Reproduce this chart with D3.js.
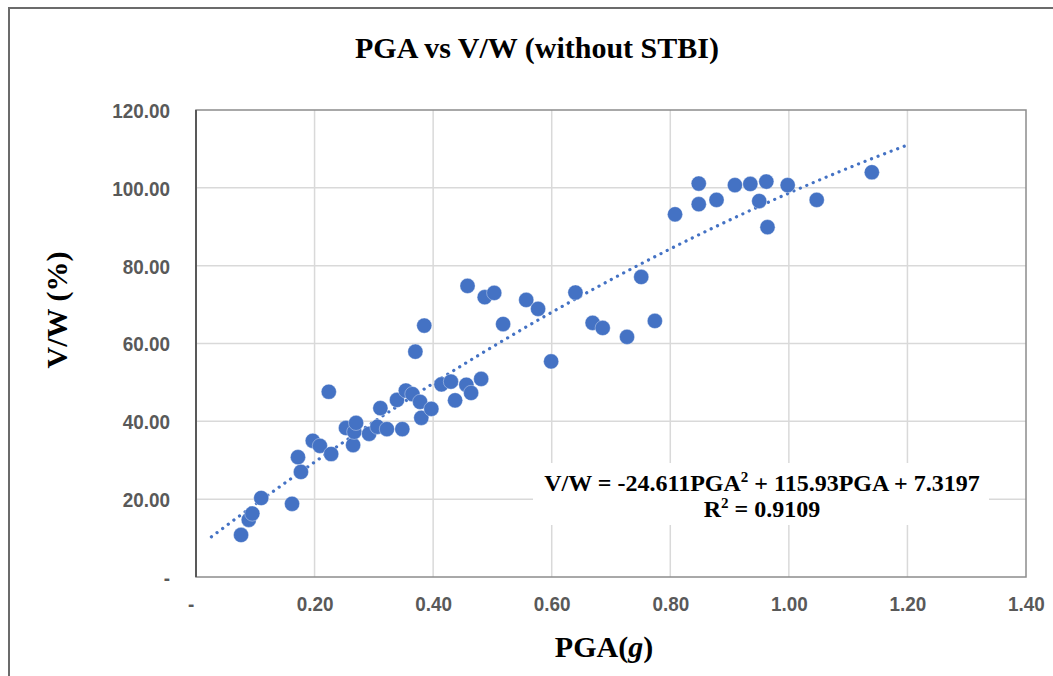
<!DOCTYPE html>
<html>
<head>
<meta charset="utf-8">
<script src="https://cdn.jsdelivr.net/npm/d3@7"></script>
<style>
  html, body { margin: 0; padding: 0; background: #fff; }
  svg { display: block; }
</style>
</head>
<body>
<svg id="chart" width="1053" height="676"></svg>
<script>
// ---- Data ----
const pga = [0.076, 0.089, 0.095, 0.110, 0.162, 0.172, 0.177, 0.197, 0.209, 0.224,
             0.228, 0.253, 0.265, 0.267, 0.270, 0.292, 0.306, 0.311, 0.322, 0.339,
             0.348, 0.354, 0.365, 0.370, 0.378, 0.380, 0.385, 0.397, 0.414, 0.430,
             0.437, 0.456, 0.458, 0.464, 0.481, 0.487, 0.503, 0.518, 0.557, 0.577,
             0.599, 0.640, 0.669, 0.686, 0.727, 0.751, 0.774, 0.808, 0.848, 0.848,
             0.878, 0.909, 0.935, 0.950, 0.962, 0.964, 0.998, 1.047, 1.140];
const vw  = [10.8, 14.7, 16.3, 20.3, 18.8, 30.8, 27.0, 35.0, 33.7, 47.6,
             31.6, 38.3, 33.9, 37.3, 39.6, 36.8, 38.6, 43.4, 38.0, 45.5,
             38.0, 47.9, 47.0, 57.9, 45.0, 40.9, 64.6, 43.2, 49.5, 50.2,
             45.4, 49.4, 74.8, 47.3, 50.9, 71.9, 73.0, 65.0, 71.2, 68.9,
             55.4, 73.1, 65.3, 64.0, 61.7, 77.1, 65.8, 93.2, 101.1, 95.8,
             96.9, 100.7, 101.0, 96.6, 101.6, 89.9, 100.7, 96.9, 104.0];
const xTicks = [0, 0.2, 0.4, 0.6, 0.8, 1.0, 1.2, 1.4];
const yTicks = [0, 20, 40, 60, 80, 100, 120];
const trendCoef = [-24.611, 115.93, 7.3197];   // a*x^2 + b*x + c
const trendRange = [0.026, 1.2];
const titleText = "PGA vs V/W (without STBI)";
const eqLine1 = ["V/W = -24.611PGA", "2", " + 115.93PGA + 7.3197"];
const eqLine2 = ["R", "2", " = 0.9109"];

// ---- Layout ----
const svg = d3.select("#chart");
const W = 1053, H = 676;
const plot = {left: 196, right: 1026, top: 110, bottom: 577};
const blue = "#4472C4";

const x = d3.scaleLinear().domain([0, 1.4]).range([plot.left, plot.right]);
const y = d3.scaleLinear().domain([0, 120]).range([plot.bottom, plot.top]);

svg.append("rect").attr("width", W).attr("height", H).attr("fill", "#fff");

// outer chart frame (extends beyond right/bottom edges)
svg.append("path")
  .attr("d", `M9,${H + 5} L9,8 L${W + 5},8`)
  .attr("fill", "none").attr("stroke", "#6b6b6b").attr("stroke-width", 2);

// gridlines
svg.append("g").selectAll("line.v").data(xTicks.slice(1, -1)).join("line")
  .attr("x1", d => x(d)).attr("x2", d => x(d))
  .attr("y1", plot.top).attr("y2", plot.bottom)
  .attr("stroke", "#d9d9d9").attr("stroke-width", 1.5);
svg.append("g").selectAll("line.h").data(yTicks.slice(1, -1)).join("line")
  .attr("x1", plot.left).attr("x2", plot.right)
  .attr("y1", d => y(d)).attr("y2", d => y(d))
  .attr("stroke", "#d9d9d9").attr("stroke-width", 1.5);

// plot area border
svg.append("rect")
  .attr("x", plot.left).attr("y", plot.top)
  .attr("width", plot.right - plot.left).attr("height", plot.bottom - plot.top)
  .attr("fill", "none").attr("stroke", "#8c8c8c").attr("stroke-width", 1.5);

// left axis line
svg.append("line")
  .attr("x1", plot.left).attr("x2", plot.left)
  .attr("y1", plot.top).attr("y2", plot.bottom)
  .attr("stroke", "#595959").attr("stroke-width", 2);

// axes labels via d3 axes
const fmt = d => d === 0 ? "-" : d3.format(".2f")(d);
const tickFont = "Liberation Sans, Arial, sans-serif";
const yAxis = svg.append("g")
  .attr("transform", `translate(${plot.left - 26},0)`)
  .call(d3.axisLeft(y).tickValues(yTicks).tickFormat(fmt).tickSize(0).tickPadding(0));
yAxis.select(".domain").remove();
yAxis.selectAll("text")
  .attr("font-family", tickFont)
  .attr("font-weight", "bold").attr("font-size", 21).attr("fill", "#595959")
  .attr("dy", "0.35em").attr("transform", "scale(0.9,1)");

const xAxis = svg.append("g")
  .attr("transform", `translate(0,${plot.bottom + 19})`)
  .call(d3.axisBottom(x).tickValues(xTicks).tickFormat(fmt).tickSize(0).tickPadding(0));
xAxis.select(".domain").remove();
xAxis.selectAll("text")
  .attr("font-family", tickFont)
  .attr("font-weight", "bold").attr("font-size", 21).attr("fill", "#595959")
  .attr("dy", "0.71em").attr("transform", "scale(0.9,1)");
xAxis.selectAll(".tick").filter(d => d === 0).select("text").attr("dx", -6);

// trendline (dotted)
const trendPts = d3.range(0, 101).map(i => {
  const xv = trendRange[0] + (trendRange[1] - trendRange[0]) * i / 100;
  return [xv, trendCoef[0] * xv * xv + trendCoef[1] * xv + trendCoef[2]];
});
svg.append("path")
  .datum(trendPts)
  .attr("d", d3.line().x(d => x(d[0])).y(d => y(d[1])))
  .attr("fill", "none").attr("stroke", blue).attr("stroke-width", 3.2)
  .attr("stroke-linecap", "round").attr("stroke-dasharray", "0.1 6.9");

// points
svg.append("g").selectAll("circle").data(pga.map((d, i) => [d, vw[i]])).join("circle")
  .attr("cx", d => x(d[0])).attr("cy", d => y(d[1])).attr("r", 7.6)
  .attr("fill", blue).attr("stroke", "#ffffff").attr("stroke-opacity", 0.6).attr("stroke-width", 0.6);

// equation label with white background
const eqCx = 762;
svg.append("rect").attr("x", 533).attr("y", 463).attr("width", 456).attr("height", 62).attr("fill", "#fff");
const serif = "Liberation Serif, Times New Roman, serif";
function eqText(parts, yy) {
  const t = svg.append("text").attr("x", eqCx).attr("y", yy)
    .attr("text-anchor", "middle").attr("font-family", serif)
    .attr("font-weight", "bold").attr("font-size", 24).attr("fill", "#000");
  t.append("tspan").text(parts[0]);
  t.append("tspan").attr("font-size", 15).attr("dy", -9).text(parts[1]);
  t.append("tspan").attr("dy", 9).text(parts[2]);
}
eqText(eqLine1, 491);
eqText(eqLine2, 517);

// title
svg.append("text").attr("x", 537).attr("y", 58).attr("text-anchor", "middle")
  .attr("font-family", serif).attr("font-weight", "bold").attr("font-size", 30)
  .attr("fill", "#000").text(titleText);

// x axis title
const xt = svg.append("text").attr("x", 604).attr("y", 657).attr("text-anchor", "middle")
  .attr("font-family", serif).attr("font-weight", "bold").attr("font-size", 30).attr("fill", "#000");
xt.append("tspan").text("PGA(");
xt.append("tspan").attr("font-style", "italic").text("g");
xt.append("tspan").text(")");

// y axis title
svg.append("text").attr("transform", "translate(67,310) rotate(-90)")
  .attr("text-anchor", "middle").attr("font-family", serif).attr("font-weight", "bold")
  .attr("font-size", 30).attr("fill", "#000").text("V/W (%)");
</script>
</body>
</html>
